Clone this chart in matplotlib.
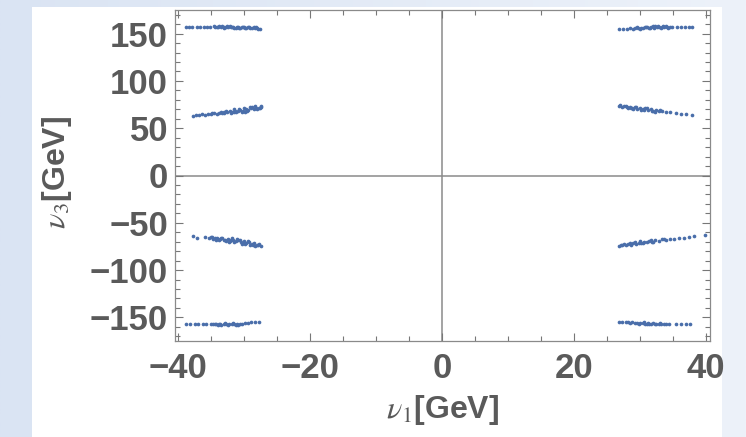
import numpy as np
import matplotlib.pyplot as plt
from matplotlib.patches import Rectangle
from matplotlib.ticker import MultipleLocator

# v1, v3 scan points (GeV)
top_left_x = [-38.9, -38.4, -37.9, -37.2, -36.7, -36.1, -35.6, -35.2, -34.6, -34.2, -33.8, -33.5,
              -33.1, -32.8, -32.4, -32.0, -31.7, -31.3, -31.0, -30.6, -30.2, -29.9, -29.5, -29.1,
              -28.8, -28.4, -28.0, -27.6, -34.0, -33.0, -32.2, -31.5, -30.4, -29.7, -28.6,
              -34.4, -33.3, -32.6, -31.9, -31.1, -30.8, -30.0, -29.3, -28.2, -27.9]
top_left_y = [157.3, 157.1, 157.4, 156.9, 157.2, 157.0, 157.3, 157.1, 157.6, 157.2, 157.8, 157.0,
              157.5, 156.8, 157.3, 156.6, 157.1, 156.4, 156.9, 156.2, 156.7, 156.0, 156.5, 155.8,
              156.2, 155.6, 155.9, 155.4, 156.6, 156.4, 157.9, 155.9, 157.2, 155.5, 156.7,
              156.9, 158.0, 157.7, 157.5, 157.4, 155.8, 157.0, 156.9, 156.5, 154.9]

mid_left_x = [-37.8, -37.3, -36.8, -36.4, -35.9, -35.5, -35.0, -34.6, -34.2, -33.8, -33.4, -33.0,
              -32.6, -32.2, -31.8, -31.4, -31.0, -30.6, -30.2, -29.8, -29.4, -29.0, -28.6, -28.2,
              -27.8, -27.4, -30.8, -29.2, -28.4, -32.8, -33.6, -31.2, -27.6,
              -34.9, -33.1, -32.0, -31.6, -30.4, -30.0, -29.6, -28.8, -28.0, -27.5, -29.9, -31.5]
mid_left_y = [62.8, 64.4, 63.9, 64.9, 64.3, 65.3, 65.0, 66.0, 65.4, 66.6, 66.0, 67.3,
              66.7, 68.0, 67.2, 68.6, 67.9, 69.4, 68.6, 70.2, 69.3, 71.0, 70.1, 71.8,
              70.9, 72.9, 70.3, 72.3, 73.1, 68.4, 67.5, 66.8, 71.6,
              66.4, 65.9, 66.5, 69.8, 67.4, 71.2, 68.0, 72.5, 70.0, 74.0, 67.6, 67.0]

low_left_x = [-37.8, -37.1, -35.9, -35.3, -34.9, -34.5, -34.1, -33.7, -33.3, -32.9, -32.5, -32.1,
              -31.7, -31.3, -30.9, -30.5, -30.1, -29.7, -29.3, -28.9, -28.5, -28.1, -27.7, -27.4,
              -33.9, -32.7, -31.5, -30.3, -29.1, -28.3, -34.7, -31.9, -30.7,
              -35.1, -34.3, -33.5, -33.1, -32.3, -31.1, -30.0, -29.5, -28.7, -27.9, -32.0, -29.9]
low_left_y = [-64.0, -65.6, -65.3, -66.0, -65.2, -66.6, -65.9, -67.3, -66.5, -68.0, -67.1, -68.9,
              -67.9, -69.7, -68.7, -70.5, -69.6, -71.4, -70.5, -72.3, -71.4, -73.2, -72.6, -74.4,
              -68.4, -69.3, -70.8, -72.0, -73.6, -74.5, -67.6, -66.6, -67.8,
              -64.6, -67.9, -65.8, -68.6, -70.0, -67.4, -70.9, -69.1, -73.4, -74.0, -68.0, -72.5]

bottom_left_x = [-38.9, -38.3, -37.5, -37.0, -36.2, -35.8, -35.1, -34.7, -34.3, -33.9, -33.5, -33.1,
                 -32.7, -32.3, -31.9, -31.5, -31.1, -30.7, -30.3, -29.9, -29.4, -29.0, -28.4, -27.7,
                 -32.9, -34.0, -31.3, -33.7, -32.5, -31.7, -30.9, -34.5]
bottom_left_y = [-156.9, -157.2, -156.7, -157.0, -156.6, -157.1, -157.4, -156.9, -157.5, -157.0, -157.6, -157.1,
                 -157.5, -156.9, -157.4, -156.8, -157.3, -156.6, -157.0, -156.2, -155.8, -155.3, -154.9, -154.6,
                 -156.3, -157.9, -157.9, -156.5, -158.0, -156.4, -157.8, -157.2]

top_right_x = [26.8, 27.4, 28.0, 28.5, 28.9, 29.3, 29.7, 30.1, 30.5, 30.9, 31.3, 31.7,
               32.1, 32.5, 32.9, 33.3, 33.7, 34.1, 34.5, 34.9, 35.6, 36.2, 36.8, 37.4,
               37.9, 31.0, 32.3, 33.5, 30.0, 29.5, 30.7, 31.5, 32.7, 33.9, 34.3, 31.9, 33.1]
top_right_y = [154.6, 154.8, 155.1, 155.6, 155.3, 156.0, 155.6, 156.4, 155.9, 156.7, 156.2, 157.0,
               156.4, 157.1, 156.6, 157.3, 156.8, 157.2, 156.7, 157.0, 156.8, 157.1, 156.6, 156.9,
               156.5, 157.5, 157.7, 157.9, 155.3, 156.6, 157.2, 155.8, 157.9, 157.7, 156.1, 157.9, 155.9]

mid_right_x = [26.8, 27.2, 27.6, 28.0, 28.4, 28.8, 29.2, 29.6, 30.0, 30.4, 30.8, 31.2,
               31.6, 32.0, 32.4, 32.8, 33.3, 33.9, 34.6, 35.4, 36.2, 37.0, 37.8, 29.0,
               30.6, 28.2, 31.8, 27.0, 27.9, 28.6, 29.4, 30.2, 31.0, 32.2, 33.0]
mid_right_y = [73.6, 72.8, 73.4, 72.1, 72.9, 71.5, 72.3, 70.8, 71.6, 70.1, 70.9, 69.3,
               70.2, 68.6, 69.4, 67.8, 68.5, 66.9, 67.3, 65.9, 65.4, 64.6, 63.6, 70.3,
               68.9, 71.0, 67.7, 74.2, 73.9, 70.9, 72.6, 69.4, 71.4, 67.5, 69.7]

low_right_x = [26.8, 27.3, 27.8, 28.2, 28.6, 29.0, 29.4, 29.8, 30.2, 30.6, 31.0, 31.4,
               31.8, 32.3, 32.8, 33.3, 33.9, 34.5, 35.2, 35.9, 36.6, 37.4, 38.1, 39.8,
               28.4, 30.0, 31.6, 27.6, 29.2, 30.4, 32.0, 33.6, 27.1]
low_right_y = [-74.1, -73.2, -73.6, -72.4, -73.0, -71.6, -72.3, -70.9, -71.5, -70.1, -70.8, -69.2,
               -70.0, -68.4, -69.2, -67.6, -68.1, -66.8, -67.4, -66.1, -65.6, -65.2, -64.5, -63.1,
               -71.4, -69.6, -68.3, -72.2, -70.6, -71.9, -69.9, -66.9, -73.4]

bottom_right_x = [26.8, 27.3, 27.9, 28.4, 28.8, 29.2, 29.6, 30.0, 30.4, 30.8, 31.2, 31.6,
                  32.0, 32.4, 32.8, 33.2, 33.6, 34.0, 34.4, 35.5, 36.2, 36.9, 37.5, 29.8,
                  31.4, 28.1, 30.6, 32.2, 33.0, 31.0]
bottom_right_y = [-154.8, -155.3, -155.0, -155.8, -155.4, -156.1, -155.6, -156.3, -155.9, -156.6, -156.1, -156.8,
                  -156.3, -157.0, -156.5, -157.1, -156.7, -157.2, -156.9, -157.3, -157.1, -157.4, -157.0, -156.9,
                  -157.4, -154.7, -155.4, -157.5, -155.8, -157.2]

xs = [top_left_x, mid_left_x, low_left_x, bottom_left_x,
      top_right_x, mid_right_x, low_right_x, bottom_right_x]
ys = [top_left_y, mid_left_y, low_left_y, bottom_left_y,
      top_right_y, mid_right_y, low_right_y, bottom_right_y]

x_ticks = [-40, -20, 0, 20, 40]
y_ticks = [-150, -100, -50, 0, 50, 100, 150]

plt.rcParams['mathtext.fontset'] = 'stix'
plt.rcParams['font.family'] = ['Liberation Sans', 'DejaVu Sans']

fig = plt.figure(figsize=(7.46, 4.37), dpi=100)
fig.patch.set_facecolor('#e4ebf7')

# light blue slide background with a white panel
bg = fig.add_axes([0, 0, 1, 1], zorder=-2)
grad = np.linspace(0, 1, 256).reshape(1, -1)
bg.imshow(grad, cmap=plt.matplotlib.colors.LinearSegmentedColormap.from_list('bg', ['#dae4f3', '#edf2fa']),
          aspect='auto', extent=[0, 1, 0, 1])
bg.add_patch(Rectangle((32 / 746, 0), 690 / 746, 430 / 437, facecolor='white', edgecolor='none'))
bg.set_xlim(0, 1)
bg.set_ylim(0, 1)
bg.axis('off')

ax = fig.add_axes([175 / 746, 1 - 341 / 437, 535 / 746, 331 / 437])
ax.set_facecolor('white')

for cx, cy in zip(xs, ys):
    ax.scatter(cx, cy, s=7, color='#4a6eaa', linewidths=0, zorder=3)

ax.axhline(0, color='#8a8a8a', lw=1.1, zorder=1)
ax.axvline(0, color='#8a8a8a', lw=1.1, zorder=1)

ax.set_xlim(-40.5, 40.6)
ax.set_ylim(-175, 175)
ax.set_xticks(x_ticks)
ax.set_yticks(y_ticks)
ax.set_xticklabels([str(t).replace('-', '\u2212') for t in x_ticks])
ax.set_yticklabels([str(t).replace('-', '\u2212') for t in y_ticks])
ax.xaxis.set_minor_locator(MultipleLocator(5))
ax.yaxis.set_minor_locator(MultipleLocator(10))

ax.tick_params(which='both', direction='in', top=True, right=True, color='#777777', width=0.8)
ax.tick_params(which='major', length=6)
ax.tick_params(which='minor', length=3.5)
ax.tick_params(axis='x', which='major', labelsize=25, labelcolor='#5a5a5a', pad=8)
ax.tick_params(axis='y', which='major', labelsize=25, labelcolor='#5a5a5a', pad=5)
for lab in ax.get_xticklabels() + ax.get_yticklabels():
    lab.set_fontweight('bold')

for sp in ax.spines.values():
    sp.set_color('#8a8a8a')
    sp.set_linewidth(0.9)

fig.text(443 / 746, 1 - 410 / 437, r'$\nu_1$[GeV]', ha='center', va='center',
         fontsize=23, color='#5a5a5a', fontweight='bold')
fig.text(57 / 746, 1 - 172 / 437, r'$\nu_3$[GeV]', ha='center', va='center', rotation=90,
         fontsize=23, color='#5a5a5a', fontweight='bold')

fig.savefig('out.png', dpi=100, facecolor=fig.get_facecolor())
